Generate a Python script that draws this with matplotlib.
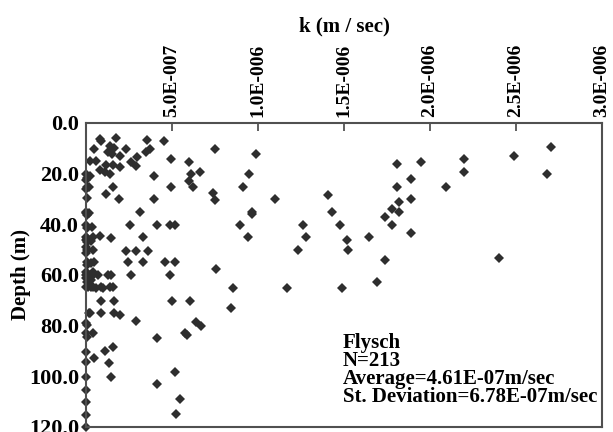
import matplotlib
matplotlib.use('Agg')
import matplotlib.pyplot as plt
import numpy as np

# permeability k in units of 1E-6 m/sec, depth in m
k_scatter=[0.080,0.089,0.176,0.355,0.453,0.047,0.14,0.128,0.15,0.16,0.196,0.231,0.37,0.35,0.298,
           0.263,0.292,0.021,0.06,0.118,0.157,0.196,0.08,0.109,0.138,0.496,0.599,0.395,0.61,0.66,
           0.6,0.62,0.752,0.157,0.496,0.118,0.19,0.395,0.74,0.75,0.312,0.254,0.415,0.487,0.516,
           0.331,0.147,0.04,0.08,0.234,0.292,0.36,0.244,0.331,0.461,0.516,0.758]
d_scatter=[6.3,7.0,6.0,6.7,7.1,10.3,9.0,11.5,12.2,10.0,12.9,10.3,10.3,11.6,13.5,
           15.5,16.8,15.0,15.0,16.4,16.4,17.5,18.5,19.2,20.3,14.2,15.3,20.8,20.3,19.2,
           22.9,25.1,10.3,25.1,25.1,28.2,30.0,30.0,27.8,30.4,35.0,40.3,40.3,40.3,40.3,
           44.9,45.5,44.9,44.5,50.5,50.5,50.5,55.0,55.0,55.0,55.0,57.8]

k_mid=[0.987,0.948,0.911,1.097,1.409,1.428,0.963,0.963,1.477,1.264,1.277,0.895,0.94,1.516,
       1.525,1.231,0.853,1.167,1.486,0.845]
d_mid=[12.4,20.1,25.1,30.1,28.4,35.0,35.0,35.9,40.3,40.3,45.1,40.3,45.1,46.2,
       50.1,50.1,65.3,65.3,65.3,73.2]

k_right=[1.647,1.69,1.738,1.738,1.781,1.777,1.82,1.82,1.806,1.806,1.89,1.89,1.89,1.948,
         2.091,2.198,2.198,2.401,2.49,2.703,2.678]
d_right=[45.1,62.9,54.1,37.2,40.3,34.1,31.1,35.0,25.1,16.2,22.2,30.1,43.3,15.3,
         25.1,14.3,19.2,53.2,13.0,9.6,20.1]

k_low=[0.002,0.04,0.07,0.128,0.147,0.263,0.487,0.012,0.04,0.06,0.089,0.099,0.138,0.157,
       0.089,0.163,0.502,0.603,0.021,0.089,0.163,0.196,0.292,0.641,0.67,0.574,0.589,
       0.415,0.112,0.157,0.047,0.132,0.147,0.516,0.413,0.545,0.525,0.02,0.04]
d_low=[60,60,60,60,60,60,60,64.9,64.9,65.3,64.9,65.3,64.9,64.9,
       70.1,70.1,70.1,70.1,74.9,74.9,74.9,75.6,78.0,78.4,80.1,82.8,83.7,
       85.0,89.9,88.3,92.9,94.9,100.2,98.2,103.0,109.0,114.9,75.1,83.0]

# near zero values stacked on the axis
k_zero=[0.0,0.008,0.0,0.005,0.0,0.008,0.0,0.0,0.006,0.0,0.008,0.0,0.005,0.0,0.008,0.0,0.006,
        0.0,0.005,0.008,0.0,0.006,0.0,0.008,0.0,0.0,0.006,0.0,0.008,0.0,0.0,0.0,0.0,0.0,0.0,0.0,
        0.03,0.04,0.035,0.03,0.045,0.04,0.03,0.025,0.02,0.02,0.03,0.02]
d_zero=[20.3,21.8,22.5,25.1,26.0,29.7,35.0,35.7,36.3,40.3,41.6,44.9,45.5,46.2,46.8,48.8,50.1,
        51.4,54.7,56.1,58.7,59.3,61.3,62.6,64.6,79.1,79.7,83.0,84.4,90.3,94.2,100.2,105.4,110.0,115.3,119.9,
        55.3,50.1,41.0,46.5,54.7,58.7,62.0,21.0,25.1,35.5,64.6,60.5]

xticks_k=[0,0.5,1.0,1.5,2.0,2.5,3.0]
xtick_labels=['','5.0E-007','1.0E-006','1.5E-006','2.0E-006','2.5E-006','3.0E-006']
yticks_d=[0,20,40,60,80,100,120]
ytick_labels=['0.0','20.0','40.0','60.0','80.0','100.0','120.0']

plt.rcParams['font.family']=['Liberation Serif','DejaVu Serif']
plt.rcParams['font.weight']='bold'

fig=plt.figure(figsize=(6.13,4.32),dpi=100)
ax=fig.add_axes([86/613.0,1-427/432.0,(602-86)/613.0,(427-123)/432.0])

k_all=np.array(k_scatter+k_mid+k_right+k_low+k_zero)*1e-6
d_all=np.array(d_scatter+d_mid+d_right+d_low+d_zero)
ax.plot(k_all,d_all,'D',color='#2e2e2e',markersize=5.4,markeredgewidth=0,clip_on=False)

ax.set_xlim(0,3e-6)
ax.set_ylim(120,0)
ax.xaxis.tick_top()
ax.xaxis.set_label_position('top')
ax.set_xticks(np.array(xticks_k)*1e-6)
ax.set_xticklabels(xtick_labels,rotation=90,fontsize=14,fontweight='bold')
ax.set_yticks(yticks_d)
ax.set_yticklabels(ytick_labels,fontsize=16,fontweight='bold')
ax.tick_params(axis='x',direction='in',length=6,width=1.2,color='#444444',pad=4)
ax.tick_params(axis='y',direction='in',length=0,pad=5)
for s in ax.spines.values():
    s.set_color('#505050');s.set_linewidth(1.5)

ax.set_xlabel('k (m / sec)',fontsize=15,fontweight='bold')
ax.xaxis.set_label_coords(0.5,1.30)
ax.set_ylabel('Depth (m)',fontsize=15,fontweight='bold')
ax.yaxis.set_label_coords(-0.106,0.5)

fig.text(343/613.0,1-333/432.0,'Flysch\nN=213\nAverage=4.61E-07m/sec\nSt. Deviation=6.78E-07m/sec',
         fontsize=15,fontweight='bold',va='top',ha='left',linespacing=0.86)

plt.savefig('out.png',dpi=100)
